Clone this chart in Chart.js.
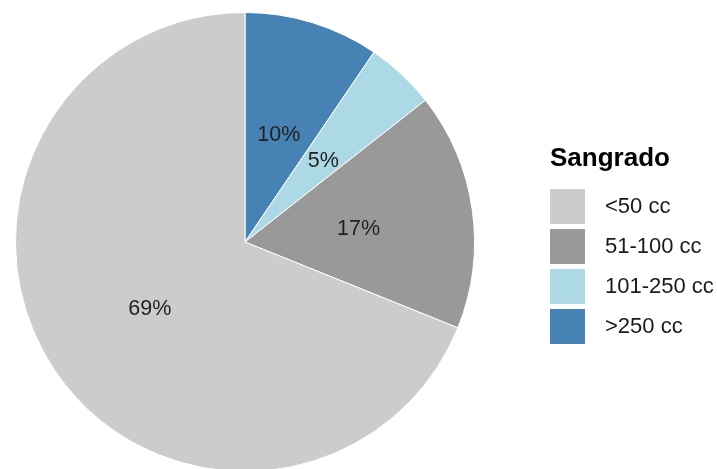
<!DOCTYPE html>
<html>
<head>
<meta charset="utf-8">
<script src="https://cdn.jsdelivr.net/npm/chart.js@4.4.0/dist/chart.umd.min.js"></script>
<style>
  html, body { margin: 0; padding: 0; background: #fff; overflow: hidden; }
  #wrap { position: relative; width: 717px; height: 469px; overflow: hidden; }
  #chart { position: absolute; left: 0; top: 0; }
  #legend { position: absolute; left: 550px; top: 138px; font-family: "Liberation Sans", Arial, sans-serif; }
  #legend .title { font-weight: bold; font-size: 26px; color: #000; height: 48px; line-height: 38px; }
  #legend .row { display: flex; align-items: center; height: 40px; }
  #legend .box { width: 35px; height: 35px; margin-right: 20px; }
  #legend .lbl { font-size: 22px; color: #1a1a1a; }
</style>
</head>
<body>
<div id="wrap">
  <canvas id="chart" width="717" height="484"></canvas>
  <div id="legend"></div>
</div>
<script>
// Legend order (as in the picture)
const categories = ['<50 cc', '51-100 cc', '101-250 cc', '>250 cc'];
// Share of each group
const values = [68.9, 16.7, 4.9, 9.5];
// Labels printed inside the slices
const pctLabels = ['69%', '17%', '5%', '10%'];
const colors = ['#cccccc', '#999999', '#add8e6', '#4682b4'];
const legendTitle = 'Sangrado';

// The pie runs clockwise from 12 o'clock starting with the last group
const order = [3, 2, 1, 0];

// Draws the percent text in the middle of each slice
const sliceLabels = {
    id: 'sliceLabels',
    afterDatasetsDraw(chart) {
        const ctx = chart.ctx;
        const meta = chart.getDatasetMeta(0);
        ctx.save();
        ctx.font = '21.5px "Liberation Sans", Arial, sans-serif';
        ctx.fillStyle = '#222222';
        ctx.textAlign = 'center';
        ctx.textBaseline = 'middle';
        meta.data.forEach((arc, i) => {
            const p = arc.tooltipPosition();
            ctx.fillText(pctLabels[order[i]], p.x, p.y + 3);
        });
        ctx.restore();
    }
};

const ctx = document.getElementById('chart').getContext('2d');
new Chart(ctx, {
    type: 'pie',
    data: {
        labels: order.map(i => categories[i]),
        datasets: [{
            data: order.map(i => values[i]),
            backgroundColor: order.map(i => colors[i]),
            borderColor: '#ffffff',
            borderWidth: 1
        }]
    },
    options: {
        responsive: false,
        animation: false,
        layout: { padding: { left: 15, right: 242, top: 12, bottom: 12 } },
        plugins: {
            legend: { display: false },
            tooltip: { enabled: false }
        }
    },
    plugins: [sliceLabels]
});

// Builds the legend on the right
const legendEl = document.getElementById('legend');
let html = '<div class="title">' + legendTitle + '</div>';
categories.forEach((c, i) => {
    html += '<div class="row"><div class="box" style="background:' + colors[i] + '"></div><div class="lbl">' + c.replace('<', '&lt;').replace('>', '&gt;') + '</div></div>';
});
legendEl.innerHTML = html;
</script>
</body>
</html>
